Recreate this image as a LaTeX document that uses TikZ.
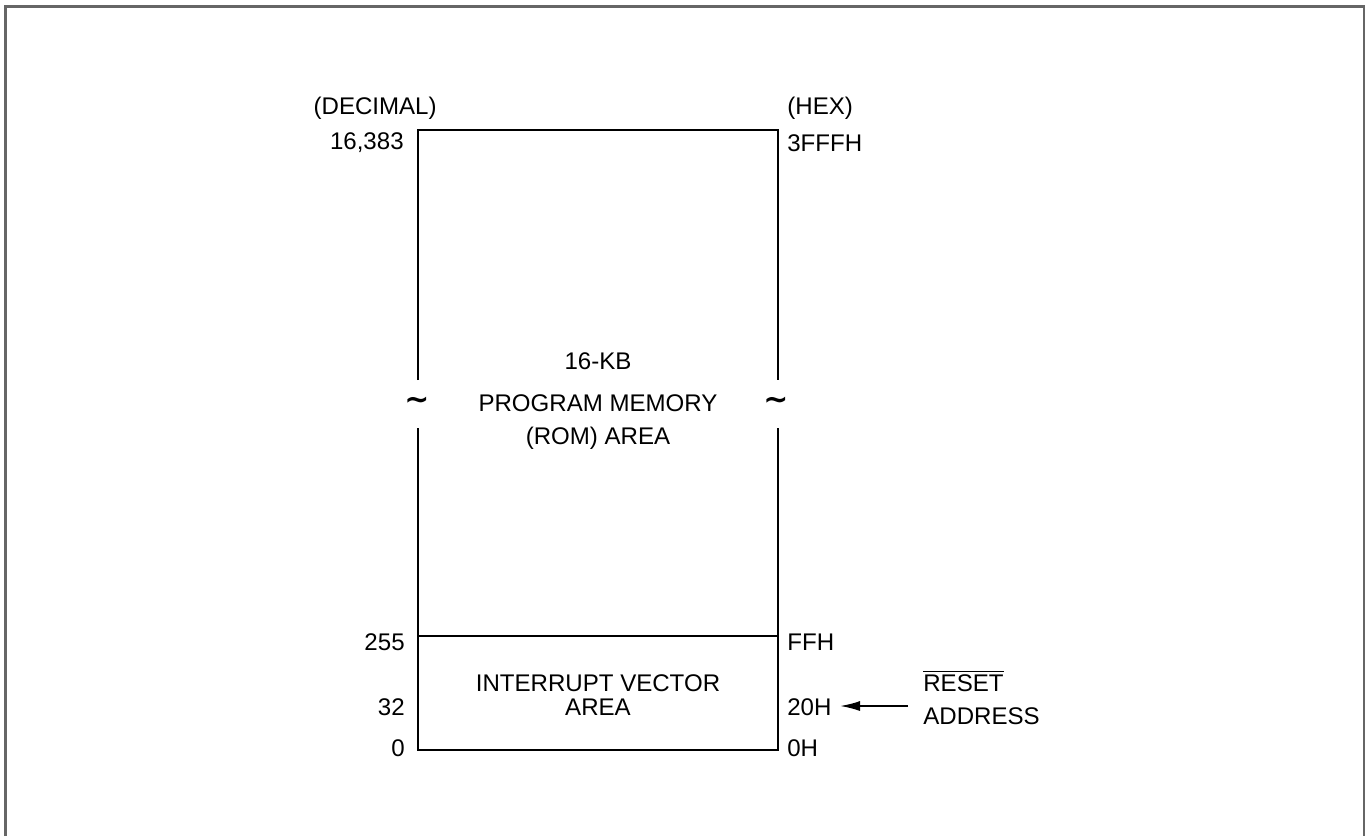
\documentclass[tikz,border=0pt]{standalone}
\usepackage{fontspec}
\setmainfont{Liberation Sans}
\newfontfamily\symfont{DejaVu Sans}
\usetikzlibrary{arrows.meta}
\begin{document}
\begin{tikzpicture}[x=0.02cm,y=-0.02cm,
  lbl/.style={font=\fontsize{13.7}{16}\selectfont, inner sep=0pt},
  brk/.style={font=\symfont\bfseries\fontsize{17}{17}\selectfont, inner sep=0pt},
  boxline/.style={line width=1pt, black},
  frame/.style={line width=1.2pt, black!60}]
\useasboundingbox (0,0) rectangle (1369,836);
\draw[frame] (5.5,836) -- (5.5,6.5) -- (1364,6.5) -- (1364,836);
% box corners
\coordinate (tl) at (418,130);
\coordinate (tr) at (778,130);
\coordinate (bl) at (418,750);
\coordinate (br) at (778,750);
\coordinate (ml) at (418,636);
\coordinate (mr) at (778,636);
\coordinate (lgapt) at (418,380);
\coordinate (lgapb) at (418,428);
\coordinate (rgapt) at (778,380);
\coordinate (rgapb) at (778,428);
\draw[boxline] (lgapt) -- (tl) -- (tr) -- (rgapt);
\draw[boxline] (lgapb) -- (bl) -- (br) -- (rgapb);
\draw[boxline] (ml) -- (mr);
% break marks
\node[brk] (tildeL) at (417,403) {∼};
\node[brk] (tildeR) at (776,403) {∼};
% headers
\node[lbl, anchor=east] (dec) at (437,108) {(DECIMAL)};
\node[lbl, anchor=west] (hex) at (787,108) {(HEX)};
% decimal addresses
\node[lbl, anchor=east] (d16383) at (404,143) {16,383};
\node[lbl, anchor=east] (d255) at (405,642) {255};
\node[lbl, anchor=east] (d32) at (405,707) {32};
\node[lbl, anchor=east] (d0) at (405,748) {0};
% hex addresses
\node[lbl, anchor=west] (h3fff) at (787,143) {3FFFH};
\node[lbl, anchor=west] (hff) at (787,642) {FFH};
\node[lbl, anchor=west] (h20) at (787,707) {20H};
\node[lbl, anchor=west] (h0) at (787,748) {0H};
% area labels
\node[lbl] (kb) at (598,361) {16-KB};
\node[lbl] (pm) at (598,403) {PROGRAM MEMORY};
\node[lbl] (rom) at (598,438) {(ROM) AREA};
\node[lbl] (iv1) at (598,683) {INTERRUPT VECTOR};
\node[lbl] (iv2) at (598,707) {AREA};
% reset
\node[lbl, anchor=west] (reset) at (923,681) {$\overline{\hbox{RESET}}$};
\node[lbl, anchor=west] (addr) at (923,716) {ADDRESS};
\coordinate (arrstart) at (908,706);
\coordinate (arrend) at (840,706);
\draw[line width=1pt, -{Latex[length=0.4cm, width=0.2cm]}] (arrstart) -- (arrend);
\end{tikzpicture}
\end{document}
